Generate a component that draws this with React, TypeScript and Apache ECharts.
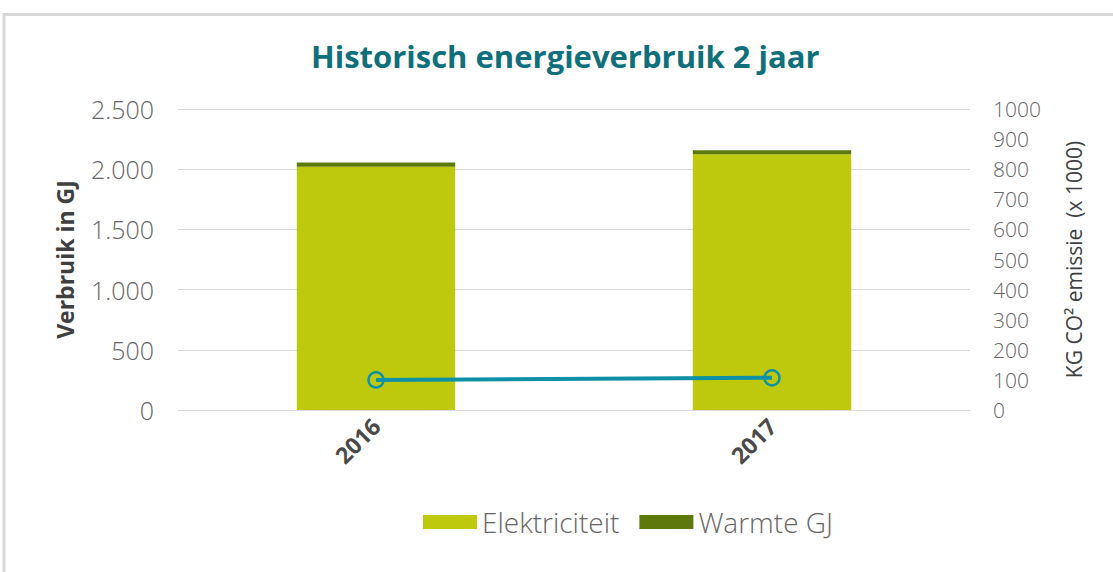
import React, { useEffect, useRef } from "react";
import * as echarts from "echarts";

const categories = ["2016", "2017"];
const elektriciteit = [2020, 2125];
const warmte = [36, 33];
const co2Emissie = [100, 107];
const leftTicks = { min: 0, max: 2500, interval: 500 };
const rightTicks = { min: 0, max: 1000, interval: 100 };

const FONT = "'Open Sans', 'Noto Sans', sans-serif";

export default function App() {
  const ref = useRef<HTMLDivElement>(null);
  useEffect(() => {
    if (!ref.current) return;
    const chart = echarts.init(ref.current, null, { renderer: "svg" });
    chart.setOption({
      animation: false,
      backgroundColor: "#ffffff",
      textStyle: { fontFamily: FONT },
      title: {
        text: "Historisch energieverbruik 2 jaar",
        left: 306,
        top: 35,
        textStyle: { color: "#0f6f7b", fontSize: 31, fontWeight: "bold", fontFamily: FONT },
      },
      graphic: [
        {
          type: "rect",
          shape: { x: 4, y: 14.5, width: 1200, height: 700 },
          style: { fill: "none", stroke: "#d9d9d9", lineWidth: 3 },
          silent: true,
        },
      ],
      legend: {
        left: 418,
        top: 503,
        itemWidth: 54,
        itemHeight: 14,
        itemGap: 20,
        icon: "rect",
        data: ["Elektriciteit", "Warmte GJ"],
        textStyle: { color: "#666666", fontSize: 28, fontWeight: 300, fontFamily: FONT },
      },
      grid: { left: 178, right: 143, top: 109, bottom: 162 },
      xAxis: {
        type: "category",
        data: categories,
        axisLine: { show: true, lineStyle: { color: "#d9d9d9" } },
        axisTick: { show: false },
        axisLabel: {
          rotate: 45,
          margin: 12,
          color: "#4a4a4a",
          fontSize: 23,
          fontWeight: "bold",
          fontFamily: FONT,
        },
      },
      yAxis: [
        {
          type: "value",
          min: leftTicks.min,
          max: leftTicks.max,
          interval: leftTicks.interval,
          name: "Verbruik in GJ",
          nameLocation: "middle",
          nameGap: 102,
          nameTextStyle: { color: "#404040", fontSize: 23, fontWeight: "bold", fontFamily: FONT },
          axisLine: { show: false },
          axisTick: { show: false },
          splitLine: { lineStyle: { color: "#d9d9d9" } },
          axisLabel: {
            margin: 24,
            color: "#666666",
            fontSize: 25,
            fontWeight: 300,
            fontFamily: FONT,
            formatter: (v: number) => v.toLocaleString("de-DE"),
          },
        },
        {
          type: "value",
          position: "right",
          min: rightTicks.min,
          max: rightTicks.max,
          interval: rightTicks.interval,
          name: "KG CO² emissie  (x 1000)",
          nameLocation: "middle",
          nameRotate: 90,
          nameGap: 93,
          nameTextStyle: { color: "#404040", fontSize: 21, fontFamily: FONT },
          axisLine: { show: false },
          axisTick: { show: false },
          splitLine: { show: false },
          axisLabel: {
            margin: 23,
            color: "#666666",
            fontSize: 21,
            fontWeight: 300,
            fontFamily: FONT,
            formatter: (v: number) => String(v),
          },
        },
      ],
      series: [
        {
          name: "Elektriciteit",
          type: "bar",
          stack: "total",
          barWidth: "40%",
          data: elektriciteit,
          itemStyle: { color: "#bec90d" },
        },
        {
          name: "Warmte GJ",
          type: "bar",
          stack: "total",
          barWidth: "40%",
          data: warmte,
          itemStyle: { color: "#5e790b" },
        },
        {
          name: "CO2",
          type: "line",
          yAxisIndex: 1,
          data: co2Emissie,
          symbol: "circle",
          symbolSize: 15,
          lineStyle: { color: "#0e91a6", width: 4 },
          itemStyle: { color: "transparent", borderColor: "#0e91a6", borderWidth: 2.5 },
          z: 5,
        },
      ],
    });
    return () => chart.dispose();
  }, []);
  return (
    <div
      ref={ref}
      style={{ position: "absolute", left: 0, top: 0, width: 1113, height: 572 }}
    />
  );
}
